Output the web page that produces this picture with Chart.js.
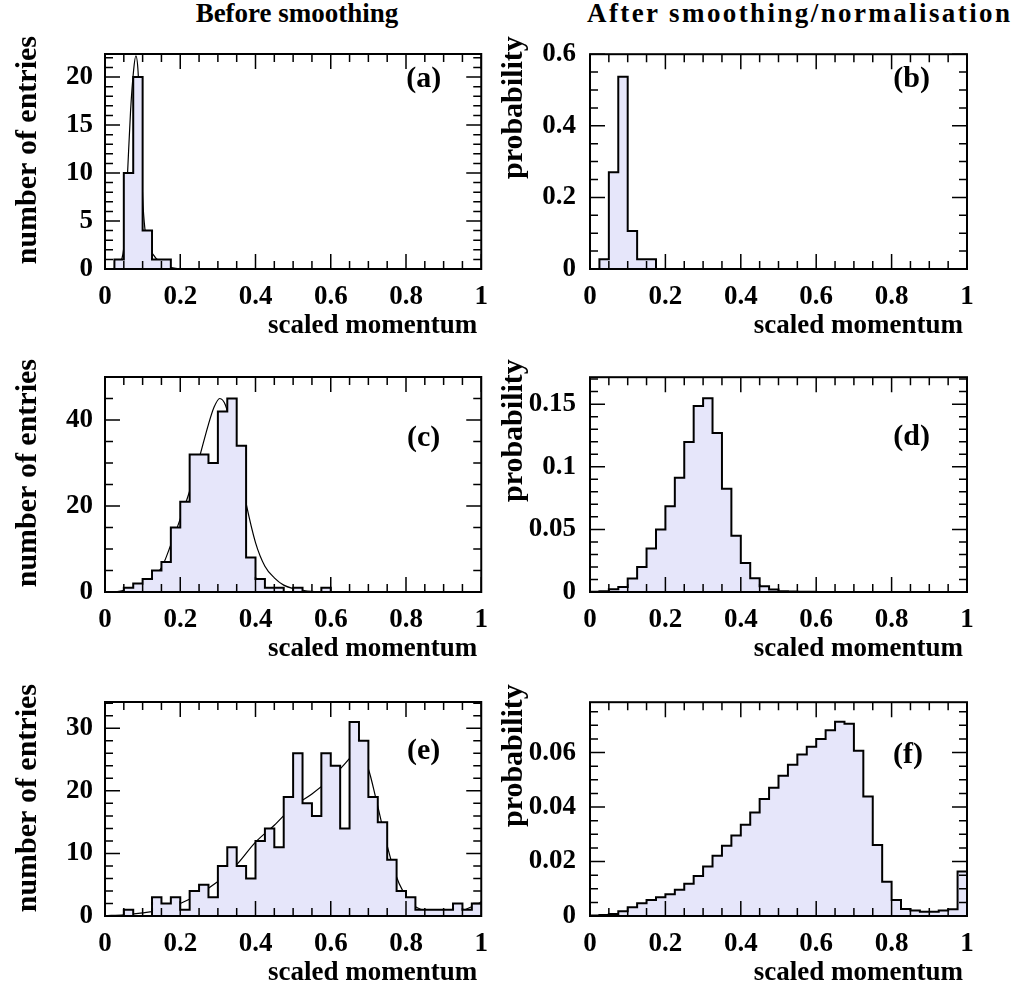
<!DOCTYPE html>
<html>
<head>
<meta charset="utf-8">
<script src="https://cdn.jsdelivr.net/npm/chart.js@4.4.1/dist/chart.umd.min.js"></script>
<style>
  body { margin: 0; background: #fff; }
  #page { position: relative; width: 1014px; height: 987px; overflow: hidden; background: #fff; }
  #page canvas { position: absolute; }
  .head { position: absolute; top: -2px; white-space: nowrap;
          font: bold 27px 'Liberation Serif', 'Times New Roman', serif; color: #000; }
</style>
</head>
<body>
<div id="page">
  <div class="head" style="left:67px; width:460px; text-align:center">Before smoothing</div>
  <div class="head" style="left:587px; letter-spacing:2.4px">After smoothing/normalisation</div>
  <canvas id="pa"></canvas>
  <canvas id="pb"></canvas>
  <canvas id="pc"></canvas>
  <canvas id="pd"></canvas>
  <canvas id="pe"></canvas>
  <canvas id="pf"></canvas>
</div>
<script>
// bin edges of the scaled momentum histograms (40 bins)
let binEdges = [0, 0.025, 0.05, 0.075, 0.1, 0.125, 0.15, 0.175, 0.2, 0.225,
                0.25, 0.275, 0.3, 0.325, 0.35, 0.375, 0.4, 0.425, 0.45, 0.475,
                0.5, 0.525, 0.55, 0.575, 0.6, 0.625, 0.65, 0.675, 0.7, 0.725,
                0.75, 0.775, 0.8, 0.825, 0.85, 0.875, 0.9, 0.925, 0.95, 0.975, 1];

let countsA = [0, 1, 10, 20, 4, 1, 1, 0, 0, 0,
               0, 0, 0, 0, 0, 0, 0, 0, 0, 0,
               0, 0, 0, 0, 0, 0, 0, 0, 0, 0,
               0, 0, 0, 0, 0, 0, 0, 0, 0, 0];
let probB = [0, 0.027, 0.27, 0.537, 0.106, 0.027, 0.027, 0, 0, 0,
             0, 0, 0, 0, 0, 0, 0, 0, 0, 0,
             0, 0, 0, 0, 0, 0, 0, 0, 0, 0,
             0, 0, 0, 0, 0, 0, 0, 0, 0, 0];
let countsC = [0, 0, 1, 2, 3, 5, 7, 15, 21, 32,
               32, 30, 42, 45, 34, 8, 3, 1, 1, 0,
               1, 0, 0, 1, 0, 0, 0, 0, 0, 0,
               0, 0, 0, 0, 0, 0, 0, 0, 0, 0];
let probD = [0.0002, 0.0005, 0.0021, 0.004, 0.0107, 0.02, 0.0347, 0.05, 0.0685, 0.0912,
             0.1197, 0.1485, 0.1547, 0.127, 0.0824, 0.045, 0.0232, 0.011, 0.0045, 0.0019,
             0.0005, 0.0003, 0.0002, 0.0001, 0, 0, 0, 0, 0, 0,
             0, 0, 0, 0, 0, 0, 0, 0, 0, 0];
let countsE = [0, 0, 1, 0, 0, 3, 2, 3, 1, 4,
               5, 3, 8, 11, 8, 6, 12, 14, 11, 19,
               26, 18, 16, 26, 24, 14, 31, 28, 19, 15,
               9, 4, 3, 1, 1, 1, 1, 2, 1, 2];
let probF = [0.0002, 0.0004, 0.0007, 0.0017, 0.0032, 0.0047, 0.0059, 0.0069, 0.008, 0.0096,
             0.0118, 0.0147, 0.0182, 0.0221, 0.0258, 0.0296, 0.0335, 0.038, 0.043, 0.0471,
             0.0515, 0.0555, 0.0593, 0.0621, 0.065, 0.0682, 0.0713, 0.0706, 0.0607, 0.0439,
             0.0261, 0.0126, 0.0059, 0.0026, 0.002, 0.0016, 0.0016, 0.002, 0.0025, 0.0163];

// fitted curves drawn over the raw histograms
let fitAX = [0.015, 0.026, 0.04, 0.051, 0.06, 0.068, 0.076, 0.082, 0.088, 0.094, 0.1, 0.106, 0.115, 0.126, 0.15, 0.177, 0.2];
let fitAY = [0, 0.1, 0.6, 2.7, 10, 16.5, 20.7, 22.2, 20.5, 14.5, 7.5, 4.2, 2.6, 1.6, 0.6, 0.15, 0];
let fitCX = [0.03, 0.05, 0.075, 0.1, 0.125, 0.15, 0.175, 0.2, 0.225, 0.25, 0.275, 0.29, 0.305, 0.32, 0.335, 0.35,
             0.375, 0.4, 0.425, 0.45, 0.475, 0.5, 0.525, 0.55, 0.6];
let fitCY = [0, 0.4, 1.0, 1.8, 3.3, 5.6, 11, 17, 23.5, 31, 39, 43, 45, 43.5, 38.5, 32,
             20.6, 11.5, 6, 3.3, 1.6, 0.8, 0.4, 0.15, 0];
let fitEX = [0, 0.05, 0.1, 0.15, 0.2, 0.25, 0.3, 0.35, 0.4, 0.45, 0.5, 0.55, 0.6, 0.625, 0.65, 0.665,
             0.68, 0.7, 0.72, 0.745, 0.77, 0.795, 0.82, 0.85, 0.9, 0.95, 1];
let fitEY = [0.05, 0.2, 0.5, 1.0, 2.0, 3.5, 5.5, 8.2, 11.8, 14.5, 17.5, 19.5, 22.0, 23.5, 25.2, 26.3,
             25.8, 23.5, 18.8, 12.4, 7.0, 3.6, 1.7, 0.9, 0.6, 0.9, 2.2];

// tick labels
let xTicks = [0, 0.2, 0.4, 0.6, 0.8, 1];
let xLabels = ['0', '0.2', '0.4', '0.6', '0.8', '1'];
let yTicksA = [0, 5, 10, 15, 20], yLabelsA = ['0', '5', '10', '15', '20'];
let yTicksB = [0, 0.2, 0.4, 0.6], yLabelsB = ['0', '0.2', '0.4', '0.6'];
let yTicksC = [0, 20, 40], yLabelsC = ['0', '20', '40'];
let yTicksD = [0, 0.05, 0.1, 0.15], yLabelsD = ['0', '0.05', '0.1', '0.15'];
let yTicksE = [0, 10, 20, 30], yLabelsE = ['0', '10', '20', '30'];
let yTicksF = [0, 0.02, 0.04, 0.06], yLabelsF = ['0', '0.02', '0.04', '0.06'];

const serif = "'Liberation Serif', 'Times New Roman', serif";
const fillColor = '#e6e6fa';
const padTop = 30;
const xAxisH = 70;

let cols = [
    { left: 0, width: 500, plotLeft: 105, plotRight: 483, titleX: 28, labelPad: 12 },
    { left: 500, width: 514, plotLeft: 590, plotRight: 967, titleX: 14, labelPad: 14 }
];
let rows = [
    { plotTop: 54, plotBottom: 269 },
    { plotTop: 377, plotBottom: 592 },
    { plotTop: 702, plotBottom: 916 }
];

let panels = [
    { id: 'pa', col: 0, row: 0, values: countsA, fitX: fitAX, fitY: fitAY, yMax: 22.4, yMinor: 1, yMajor: 5,
      yTicks: yTicksA, yLabels: yLabelsA, yTitle: 'number of entries', tag: '(a)', tagDx: 40, tagDy: 25 },
    { id: 'pb', col: 1, row: 0, values: probB, yMax: 0.6, yMinor: 0.05, yMajor: 0.2,
      yTicks: yTicksB, yLabels: yLabelsB, yTitle: 'probability', tag: '(b)', tagDx: 37, tagDy: 25 },
    { id: 'pc', col: 0, row: 1, values: countsC, fitX: fitCX, fitY: fitCY, yMax: 50, yMinor: 5, yMajor: 20,
      yTicks: yTicksC, yLabels: yLabelsC, yTitle: 'number of entries', tag: '(c)', tagDx: 41, tagDy: 61 },
    { id: 'pd', col: 1, row: 1, values: probD, yMax: 0.1715, yMinor: 0.01, yMajor: 0.05,
      yTicks: yTicksD, yLabels: yLabelsD, yTitle: 'probability', tag: '(d)', tagDx: 37, tagDy: 60 },
    { id: 'pe', col: 0, row: 2, values: countsE, fitX: fitEX, fitY: fitEY, yMax: 34.2, yMinor: 2, yMajor: 10,
      yTicks: yTicksE, yLabels: yLabelsE, yTitle: 'number of entries', tag: '(e)', tagDx: 41, tagDy: 49 },
    { id: 'pf', col: 1, row: 2, values: probF, yMax: 0.0785, yMinor: 0.005, yMajor: 0.02,
      yTicks: yTicksF, yLabels: yLabelsF, yTitle: 'probability', tag: '(f)', tagDx: 44, tagDy: 53 }
];

// frame with inward ticks on all four sides, panel tag and axis titles
let framePlugin = {
    id: 'frame',
    afterDatasetsDraw(chart, args, o) {
        let ctx = chart.ctx;
        let a = chart.chartArea;
        let sx = chart.scales.x, sy = chart.scales.y;
        ctx.save();
        ctx.strokeStyle = '#000';
        ctx.lineWidth = 1.5;
        ctx.beginPath();
        for (let i = 0; i <= 20; i++) {
            let px = sx.getPixelForValue(i * 0.05);
            let len = i % 4 === 0 ? 15 : 8;
            ctx.moveTo(px, a.bottom);
            ctx.lineTo(px, a.bottom - len);
            ctx.moveTo(px, a.top);
            ctx.lineTo(px, a.top + len);
        }
        let n = Math.floor(o.yMax / o.yMinor + 1e-6);
        let per = Math.round(o.yMajor / o.yMinor);
        for (let i = 0; i <= n; i++) {
            let py = sy.getPixelForValue(i * o.yMinor);
            let len = i % per === 0 ? 15 : 8;
            ctx.moveTo(a.left, py);
            ctx.lineTo(a.left + len, py);
            ctx.moveTo(a.right, py);
            ctx.lineTo(a.right - len, py);
        }
        ctx.stroke();
        ctx.lineWidth = 2;
        ctx.strokeRect(a.left, a.top, a.right - a.left, a.bottom - a.top);

        ctx.fillStyle = '#000';
        ctx.textAlign = 'right';
        ctx.textBaseline = 'middle';
        ctx.font = 'bold 30px ' + serif;
        ctx.fillText(o.tag, a.right - o.tagDx, a.top + o.tagDy);
        ctx.font = 'bold 27px ' + serif;
        ctx.fillText('scaled momentum', a.right - 4, a.bottom + 57);
        ctx.font = 'bold 30px ' + serif;
        ctx.translate(o.titleX, a.top - 18);
        ctx.rotate(-Math.PI / 2);
        ctx.fillText(o.yTitle, 0, 0);
        ctx.restore();
    }
};

function makePanel(p) {
    let col = cols[p.col];
    let row = rows[p.row];
    let canvas = document.getElementById(p.id);
    let plotH = row.plotBottom - row.plotTop;
    canvas.width = col.width;
    canvas.height = padTop + plotH + xAxisH;
    canvas.style.left = col.left + 'px';
    canvas.style.top = (row.plotTop - padTop) + 'px';

    let histPoints = [];
    for (let i = 0; i < binEdges.length; i++) {
        histPoints.push({ x: binEdges[i], y: p.values[Math.min(i, p.values.length - 1)] });
    }
    let datasets = [{
        data: histPoints,
        stepped: true,
        fill: 'origin',
        backgroundColor: fillColor,
        borderColor: '#000',
        borderWidth: 2,
        pointRadius: 0
    }];
    if (p.fitX) {
        datasets.push({
            data: p.fitX.map((x, i) => ({ x: x, y: p.fitY[i] })),
            fill: false,
            borderColor: '#000',
            borderWidth: 1.2,
            pointRadius: 0,
            cubicInterpolationMode: 'monotone'
        });
    }

    let tickFont = { family: serif, size: 27, weight: 'bold' };
    new Chart(canvas, {
        type: 'line',
        data: { datasets: datasets },
        options: {
            responsive: false,
            animation: false,
            devicePixelRatio: 1,
            events: [],
            layout: { padding: { top: padTop, right: col.width - (col.plotRight - col.left), left: 0, bottom: 0 } },
            plugins: {
                legend: { display: false },
                tooltip: { enabled: false },
                frame: { yMax: p.yMax, yMinor: p.yMinor, yMajor: p.yMajor, yTitle: p.yTitle,
                         tag: p.tag, tagDx: p.tagDx, tagDy: p.tagDy, titleX: col.titleX }
            },
            scales: {
                x: {
                    type: 'linear',
                    min: 0,
                    max: 1,
                    grid: { display: false, drawTicks: false },
                    border: { display: false },
                    afterBuildTicks: s => { s.ticks = xTicks.map(v => ({ value: v })); },
                    afterFit: s => { s.height = xAxisH; },
                    ticks: { font: tickFont, color: '#000', padding: 12, maxRotation: 0, autoSkip: false,
                             callback: (v, i) => xLabels[i] }
                },
                y: {
                    type: 'linear',
                    min: 0,
                    max: p.yMax,
                    grid: { display: false, drawTicks: false },
                    border: { display: false },
                    afterBuildTicks: s => { s.ticks = p.yTicks.map(v => ({ value: v })); },
                    afterFit: s => { s.width = col.plotLeft - col.left; },
                    ticks: { font: tickFont, color: '#000', padding: col.labelPad, autoSkip: false,
                             callback: (v, i) => p.yLabels[i] }
                }
            }
        },
        plugins: [framePlugin]
    });
}

for (let i = 0; i < panels.length; i++) {
    makePanel(panels[i]);
}
</script>
</body>
</html>
